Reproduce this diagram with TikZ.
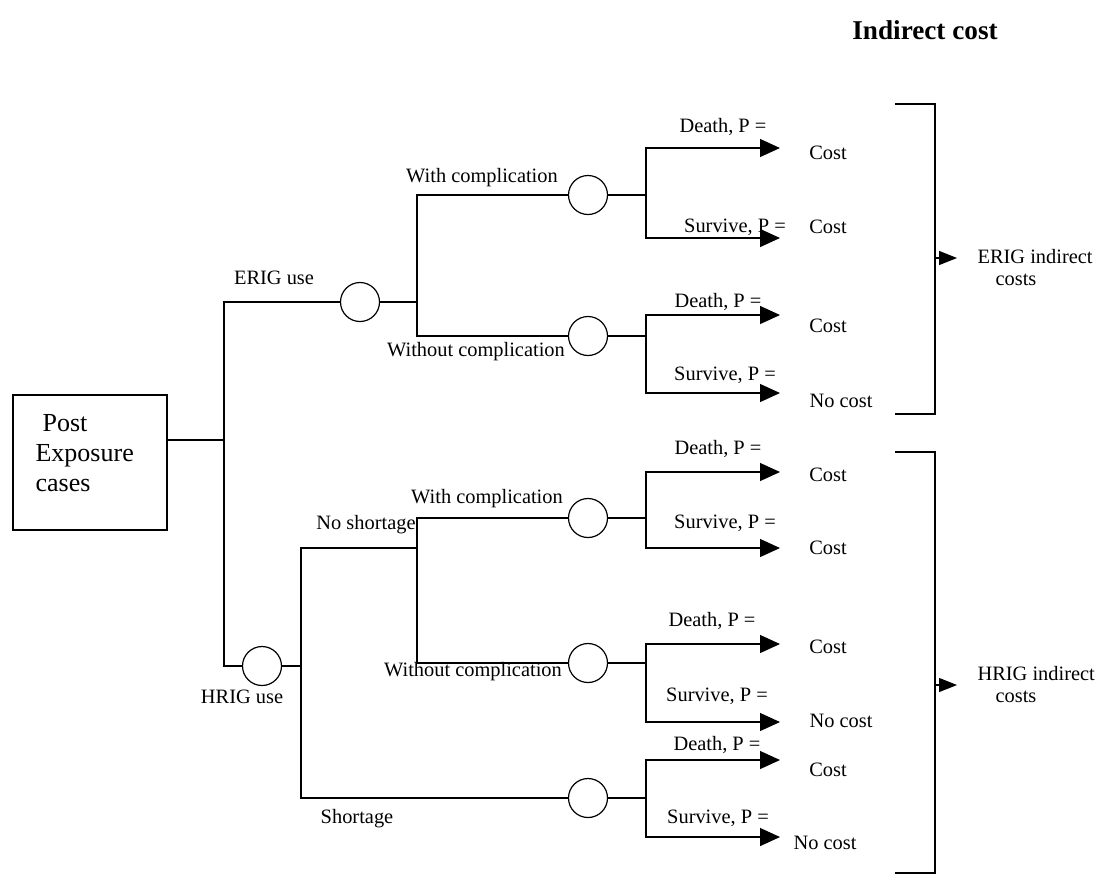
\documentclass[tikz,border=0pt]{standalone}
\usepackage{fontspec}
\setmainfont{Liberation Serif}
\usetikzlibrary{arrows.meta, positioning}

\begin{document}
\begin{tikzpicture}[
    x=0.5pt, y=-0.5pt,
    line width=0.6pt,
    lbl/.style={font=\fontsize{10.2}{11}\selectfont, inner sep=0pt},
    chance/.style={circle, draw, minimum size=19.5pt, inner sep=0pt},
    arrow/.style={-{Triangle[length=10pt, width=9pt]}},
    brarrow/.style={-{Triangle[length=9pt, width=7pt]}}
  ]
    \useasboundingbox (0,0) rectangle (1106,875);

    % title
    \node[font=\fontsize{13.6}{16}\selectfont\bfseries] (title) at (925,30) {Indirect cost};

    % root box
    \node[draw, minimum width=77pt, minimum height=67.5pt, inner sep=0pt] (post) at (90,462.5) {};
    \node[anchor=west, align=left, font=\fontsize{13}{15}\selectfont, inner sep=0pt] (posttext) at (35,453) {\hspace*{3.5pt}Post\\Exposure\\cases};

    % chance nodes
    \node[chance] (erig) at (360,302) {};
    \node[chance] (hrig) at (262,666) {};
    \node[chance] (erigwc) at (588,195) {};
    \node[chance] (erigwoc) at (588,336) {};
    \node[chance] (hrigwc) at (588,518) {};
    \node[chance] (hrigwoc) at (588,663) {};
    \node[chance] (hrigsh) at (588,798) {};

    % junctions
    \coordinate (j0) at (224,440);
    \coordinate (j1) at (417,302);
    \coordinate (j2) at (301,666);
    \coordinate (j3) at (417,548);

    \draw (post.east |- j0) -- (j0);
    \draw (j0) |- (erig);
    \draw (j0) |- (hrig);
    \draw (erig) -- (j1);
    \draw (j1) |- (erigwc);
    \draw (j1) |- (erigwoc);
    \draw (hrig) -- (j2);
    \draw (j2) |- (j3);
    \draw (j2) |- (hrigsh);
    \draw (j3) |- (hrigwc);
    \draw (j3) |- (hrigwoc);

    % outcome forks
    \foreach \n/\yd/\ys in {erigwc/148/238, erigwoc/315/393, hrigwc/472/548, hrigwoc/644/722, hrigsh/760/837}{
      \path (\n.center) ++(58,0) coordinate (\n-f);
      \coordinate (\n-d) at (780,\yd);
      \coordinate (\n-s) at (780,\ys);
      \draw (\n) -- (\n-f);
      \draw[arrow] (\n-f) |- (\n-d);
      \draw[arrow] (\n-f) |- (\n-s);
    }

    % branch labels
    \node[lbl] (lerig) at (274,278) {ERIG use};
    \node[lbl] (lhrig) at (242,697) {HRIG use};
    \node[lbl] (lerigwc) at (482,178) {With complication};
    \node[lbl] (lerigwoc) at (476,352) {Without complication};
    \node[lbl] (lns) at (366,525) {No shortage};
    \node[lbl] (lsh) at (357,819) {Shortage};
    \node[lbl] (lhrigwc) at (487,499) {With complication};
    \node[lbl] (lhrigwoc) at (473,672) {Without complication};

    % outcome labels
    \node[lbl] (d1) at (723,127) {Death, P =};
    \node[lbl] (s1) at (735,227) {Survive, P =};
    \node[lbl] (d2) at (718,302) {Death, P =};
    \node[lbl] (s2) at (725,375) {Survive, P =};
    \node[lbl] (d3) at (718,449) {Death, P =};
    \node[lbl] (s3) at (725,523) {Survive, P =};
    \node[lbl] (d4) at (712,621) {Death, P =};
    \node[lbl] (s4) at (717,696) {Survive, P =};
    \node[lbl] (d5) at (717,745) {Death, P =};
    \node[lbl] (s5) at (718,818) {Survive, P =};

    % costs
    \node[lbl] (c1) at (828,153) {Cost};
    \node[lbl] (c2) at (828,227) {Cost};
    \node[lbl] (c3) at (828,326) {Cost};
    \node[lbl] (c4) at (841,401) {No cost};
    \node[lbl] (c5) at (828,475) {Cost};
    \node[lbl] (c6) at (828,548) {Cost};
    \node[lbl] (c7) at (828,647) {Cost};
    \node[lbl] (c8) at (841,721) {No cost};
    \node[lbl] (c9) at (828,770) {Cost};
    \node[lbl] (c10) at (825,843) {No cost};

    % brackets
    \draw (895,104) -| (935,414) -- (895,414);
    \draw (895,452) -| (935,873) -- (895,873);
    \coordinate (ebr) at (935,258);
    \coordinate (ebrtip) at (957,258);
    \coordinate (hbr) at (935,685);
    \coordinate (hbrtip) at (957,685);
    \draw[brarrow] (ebr) -- (ebrtip);
    \draw[brarrow] (hbr) -- (hbrtip);
    \node[lbl, anchor=west, align=left] (erigcost) at (977,268) {ERIG indirect\\\hspace*{9pt}costs};
    \node[lbl, anchor=west, align=left] (hrigcost) at (977,685) {HRIG indirect\\\hspace*{9pt}costs};
\end{tikzpicture}
\end{document}
